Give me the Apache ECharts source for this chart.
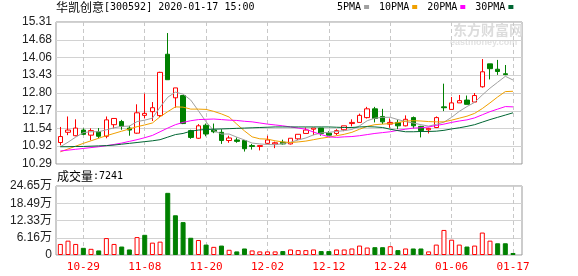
<!DOCTYPE html>
<html><head><meta charset="utf-8">
<script src="https://cdn.jsdelivr.net/npm/echarts@6/dist/echarts.min.js"></script>
<style>html,body{margin:0;padding:0;background:#fff}#c{width:578px;height:276px}</style>
</head><body><div id="c"></div>
<script>
const stockName = '华凯创意';
const stockInfo = '[300592] 2020-01-17 15:00';
const volLabel = '成交量';
const lastVolText = ':7241';
const maNames = ['5PMA', '10PMA', '20PMA', '30PMA'];

const dates = ['10-24','10-25','10-28','10-29','10-30','10-31','11-01','11-04','11-05','11-06',
  '11-07','11-08','11-11','11-12','11-13','11-14','11-15','11-18','11-19','11-20',
  '11-21','11-22','11-25','11-26','11-27','11-28','11-29','12-02','12-03','12-04',
  '12-05','12-06','12-09','12-10','12-11','12-12','12-13','12-16','12-17','12-18',
  '12-19','12-20','12-23','12-24','12-25','12-26','12-27','12-30','12-31','01-02',
  '01-03','01-06','01-07','01-08','01-09','01-10','01-13','01-14','01-15','01-17'];
const xTickLabels = ['10-29','11-08','11-20','12-02','12-12','12-24','01-06','01-17'];

const opens = [11.05,11.41,11.29,11.49,11.31,11.43,11.27,11.68,11.79,11.56,
  11.38,12.01,12.14,12.00,14.17,12.63,12.71,11.47,11.20,11.66,
  11.49,11.41,11.12,11.14,11.12,10.94,10.91,11.02,11.00,11.06,
  11.00,11.18,11.37,11.52,11.56,11.38,11.37,11.50,11.72,11.76,
  11.93,12.24,11.97,11.70,11.76,11.64,11.93,11.62,11.50,11.58,
  12.31,12.22,12.45,12.55,12.48,13.02,13.83,13.64,13.48];
const closes = [11.26,11.49,11.56,11.34,11.47,11.27,11.85,11.90,11.62,11.49,
  12.10,12.08,12.28,13.53,13.27,12.98,11.72,11.23,11.64,11.35,
  11.43,11.12,11.21,11.09,10.83,10.91,10.94,11.14,11.04,11.00,
  11.20,11.34,11.49,11.56,11.37,11.31,11.47,11.64,11.76,12.01,
  12.24,11.90,11.78,11.76,11.64,11.87,11.64,11.47,11.55,11.93,
  12.28,12.45,12.53,12.40,12.71,13.55,13.66,13.56,13.45];
const lows = [10.95,11.31,11.27,11.31,11.13,11.20,11.20,11.55,11.50,11.29,
  11.36,11.90,11.81,11.95,13.27,12.28,11.70,11.18,11.18,11.27,
  11.38,11.00,11.04,11.04,10.73,10.80,10.77,11.00,10.85,10.98,
  10.98,11.14,11.37,11.31,11.29,11.31,11.31,11.45,11.62,11.76,
  11.90,11.76,11.70,11.57,11.52,11.62,11.55,11.23,11.37,11.56,
  12.16,12.22,12.45,12.40,12.48,12.99,13.28,13.44,13.43];
const highs = [11.60,11.97,11.87,11.55,11.55,11.56,11.97,11.90,11.85,11.64,
  12.40,12.78,12.48,13.55,14.92,12.98,12.71,11.50,11.70,11.72,
  11.72,11.52,11.29,11.23,11.14,11.00,10.94,11.29,11.08,11.15,
  11.20,11.34,11.58,11.56,11.56,11.45,11.52,11.64,11.87,12.07,
  12.31,12.31,12.24,11.90,11.85,12.01,11.97,11.64,11.57,11.97,
  13.13,12.66,12.73,12.71,12.80,14.00,13.83,13.97,13.79];

const ma5 = [10.90,11.06,11.24,11.40,11.43,11.43,11.50,11.57,11.62,11.63,
  11.79,11.84,11.91,12.30,12.65,12.83,12.76,12.55,12.17,11.78,
  11.47,11.35,11.35,11.24,11.14,11.03,11.00,10.98,10.97,11.01,
  11.06,11.14,11.21,11.32,11.39,11.41,11.44,11.47,11.51,11.64,
  11.82,11.91,11.94,11.94,11.86,11.79,11.74,11.68,11.63,11.69,
  11.77,11.94,12.15,12.32,12.47,12.73,12.97,13.18,13.39,13.26];
const ma10 = [10.72,10.82,10.92,11.02,11.11,11.20,11.29,11.37,11.45,11.53,
  11.61,11.67,11.74,11.96,12.14,12.31,12.30,12.23,12.23,12.22,
  12.15,12.06,11.95,11.70,11.46,11.25,11.18,11.17,11.11,11.07,
  11.05,11.07,11.10,11.15,11.20,11.24,11.29,11.34,11.41,11.52,
  11.62,11.68,11.70,11.72,11.75,11.81,11.82,11.81,11.79,11.78,
  11.78,11.84,11.91,11.98,12.08,12.25,12.45,12.66,12.85,12.86];
const ma20 = [10.75,10.78,10.81,10.84,10.87,10.90,10.94,10.98,11.03,11.09,
  11.15,11.22,11.30,11.43,11.56,11.68,11.76,11.82,11.86,11.87,
  11.88,11.86,11.84,11.83,11.80,11.78,11.74,11.70,11.67,11.64,
  11.60,11.56,11.52,11.42,11.33,11.25,11.23,11.25,11.26,11.29,
  11.33,11.37,11.40,11.43,11.48,11.52,11.56,11.57,11.60,11.65,
  11.70,11.76,11.81,11.85,11.92,12.03,12.14,12.23,12.32,12.31];
const ma30 = [10.90,10.90,10.91,10.91,10.92,10.93,10.94,10.96,10.99,11.02,
  11.05,11.08,11.11,11.15,11.24,11.33,11.37,11.45,11.49,11.51,
  11.52,11.53,11.54,11.55,11.56,11.57,11.58,11.59,11.60,11.60,
  11.60,11.60,11.60,11.60,11.60,11.60,11.59,11.58,11.58,11.60,
  11.61,11.60,11.58,11.52,11.47,11.43,11.43,11.44,11.44,11.45,
  11.48,11.53,11.57,11.62,11.68,11.77,11.86,11.94,12.02,12.10];

const volumes = [39500,51200,39500,25600,22100,16300,60500,39500,30200,19800,
  64000,72100,44200,47700,222100,141900,117500,61600,53500,37200,
  29100,33700,18600,12800,23300,16300,12800,12800,12800,14000,
  19800,17400,17400,19800,14000,14000,19800,19800,23300,33700,
  26700,27900,27900,31400,17400,23300,23300,23300,12800,37200,
  89500,54700,37200,30200,33700,80200,51200,41900,41900,7241];
const volUp = [1,1,1,0,1,0,1,1,0,0, 1,0,1,1,0,0,0,0,1,0, 1,0,1,0,0,1,1,1,1,0,
  1,1,1,1,0,0,1,1,1,1, 1,0,0,1,0,1,0,0,1,1, 1,1,1,0,1,1,1,0,0,0];

const priceTicks = [10.29,10.92,11.54,12.17,12.80,13.43,14.06,14.68,15.31];
const volTicks = [0,61625,123250,184875,246500];
const volTickLabels = ['0','6.16万','12.33万','18.49万','24.65万'];

const RED = '#ff0000', GREEN = '#008000';
const maColors = ['#a0a0a0', '#f0a000', '#ff00ff', '#006633'];
const cats = dates.concat(['']);
const MONO = 'DejaVu Sans Mono';
const CJK = 'Noto Sans CJK SC';
const AX = 'Liberation Sans, Arial, Noto Sans CJK SC';

const chart = echarts.init(document.getElementById('c'), null, {renderer: 'canvas'});
const candleData = opens.map((o, i) => [o, closes[i], lows[i], highs[i]]);
const volData = volumes.map((v, i) => ({
  value: v,
  itemStyle: volUp[i] ? {color: '#fff', borderColor: RED, borderWidth: 1}
                      : {color: GREEN, borderColor: GREEN, borderWidth: 1}
}));
const isTickCat = (i, v) => xTickLabels.indexOf(cats[i]) >= 0;
const vSplit = {show: true, interval: isTickCat, alignWithLabel: true,
  lineStyle: {type: [4, 3], color: '#c8c8c8', width: 1}};
const hiddenX = (g) => ({gridIndex: g, type: 'value', show: false, min: 0, max: 1});
const richTitle = {
  fontWeight: 'normal',
  rich: {
    a: {fontFamily: CJK, fontSize: 12, color: '#000', fontWeight: 'normal'},
    b: {fontFamily: MONO, fontSize: 10, color: '#000', fontWeight: 'normal'}
  }
};

const option = {
  animation: false,
  backgroundColor: '#fff',
  title: [
    {text: '{a|' + stockName + '}{b|' + stockInfo + '}', left: 56, top: 1, padding: 0, textStyle: richTitle},
    {text: '{a|' + volLabel + '}{b|' + lastVolText + '}', left: 57, top: 170, padding: 0, textStyle: richTitle}
  ],
  legend: {
    data: maNames, left: 337, top: 2, padding: 0, itemGap: 10, align: 'right',
    icon: 'rect', itemWidth: 5, itemHeight: 4, selectedMode: false,
    textStyle: {fontFamily: MONO, fontSize: 10, color: '#000', padding: [0, -2, 0, 0]}
  },
  graphic: [
    {type: 'text', left: 453, top: 23, z: 0, style: {text: '东方财富网', font: 'bold 14px "Noto Sans CJK SC"', fill: '#dcdcdc'}},
    {type: 'text', left: 450, top: 38, z: 0, style: {text: 'eastmoney.com', font: 'bold 9px "Liberation Sans"', fill: '#e2e2e2'}}
  ],
  grid: [
    {left: 56, top: 22, width: 466, height: 142, show: true, borderColor: '#999', borderWidth: 1, backgroundColor: 'transparent'},
    {left: 56.5, top: 22, width: 468, height: 142},
    {left: 56, top: 186, width: 466, height: 69, show: true, borderColor: '#999', borderWidth: 1, backgroundColor: 'transparent'},
    {left: 56.5, top: 186, width: 468, height: 69}
  ],
  xAxis: [
    hiddenX(0),
    {gridIndex: 1, type: 'category', data: cats, boundaryGap: true,
     axisLine: {show: false}, axisTick: {show: false}, axisLabel: {show: false}, splitLine: vSplit},
    hiddenX(2),
    {gridIndex: 3, type: 'category', data: cats, boundaryGap: true,
     axisLine: {show: false}, axisTick: {show: false}, splitLine: vSplit,
     axisLabel: {interval: isTickCat, color: RED, fontFamily: MONO, fontSize: 11, margin: 7}}
  ],
  yAxis: [
    {gridIndex: 0, type: 'value', min: 10.29, max: 15.31,
     axisLine: {show: false}, axisTick: {show: false, customValues: priceTicks},
     axisLabel: {customValues: priceTicks, formatter: v => v.toFixed(2), color: '#222', fontFamily: AX, fontSize: 12, margin: 4},
     splitLine: {show: true, lineStyle: {color: '#d2d2d2', width: 1}}},
    {gridIndex: 1, type: 'value', min: 10.29, max: 15.31, show: false, splitLine: {show: false}},
    {gridIndex: 2, type: 'value', min: 0, max: 246500,
     axisLine: {show: false}, axisTick: {show: false, customValues: volTicks},
     axisLabel: {customValues: volTicks, formatter: v => volTickLabels[volTicks.indexOf(v)], color: '#222', fontFamily: AX, fontSize: 12, margin: 4},
     splitLine: {show: true, lineStyle: {color: '#d2d2d2', width: 1}}},
    {gridIndex: 3, type: 'value', min: 0, max: 246500, show: false, splitLine: {show: false}}
  ],
  series: [
    {type: 'candlestick', name: 'K', xAxisIndex: 1, yAxisIndex: 1, data: candleData, barWidth: 5, z: 3,
     itemStyle: {color: '#fff', color0: GREEN, borderColor: RED, borderColor0: GREEN, borderWidth: 1}},
    ...[ma5, ma10, ma20, ma30].map((d, k) => ({
      type: 'line', name: maNames[k], xAxisIndex: 1, yAxisIndex: 1, data: d, z: 4,
      symbol: 'none', showSymbol: false, smooth: false,
      lineStyle: {color: maColors[k], width: 1}, itemStyle: {color: maColors[k]}
    })),
    {type: 'bar', name: 'VOL', xAxisIndex: 3, yAxisIndex: 3, data: volData, barWidth: 5, z: 3}
  ]
};
chart.setOption(option);
</script>
</body></html>
